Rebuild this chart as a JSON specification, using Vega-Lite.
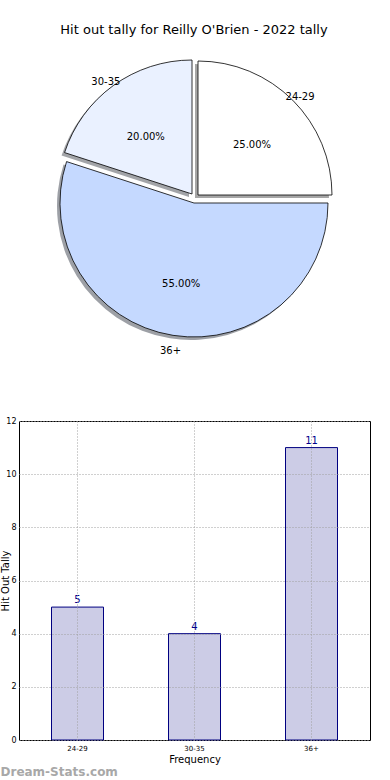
{
  "$schema": "https://vega.github.io/schema/vega-lite/v6.json",
  "padding": {"top": 24, "left": -1, "right": 0, "bottom": 0},
  "spacing": 51,
  "config": {"font": "DejaVu Sans", "view": {"stroke": null}},
  "title": {"text": "Dream-Stats.com", "orient": "bottom", "anchor": "start", "fontSize": 12, "fontWeight": "bold", "color": "#a8a8a8", "offset": 2, "dx": 1, "font": "DejaVu Sans"},
  "data": {"values": [
    {"group": "24-29", "tally": 5, "share": 0.25},
    {"group": "30-35", "tally": 4, "share": 0.20},
    {"group": "36+", "tally": 11, "share": 0.55}
  ]},
  "vconcat": [
    {
      "width": 350,
      "height": 324,
      "view": {"stroke": null},
      "title": {"text": "Hit out tally for Reilly O'Brien - 2022 tally", "fontSize": 13, "fontWeight": "normal", "offset": 4, "color": "black"},
      "layer": [
        {
          "transform": [
            {"stack": "tally", "groupby": [], "sort": [{"field": "group", "order": "ascending"}], "as": ["t0", "t1"]},
            {"filter": "datum.group === '24-29'"}
          ],
          "encoding": {
            "theta": {"field": "t0", "type": "quantitative", "scale": {"domain": [0, 20], "range": [1.5708, -4.7124]}},
            "theta2": {"field": "t1"}
          },
          "layer": [
            {"mark": {"type": "arc", "outerRadius": 134, "fill": "#4d4d4d", "opacity": 0.5, "xOffset": 1, "yOffset": -5}},
            {"mark": {"type": "arc", "outerRadius": 134, "fill": "#ffffff", "stroke": "black", "strokeWidth": 0.8, "xOffset": 4, "yOffset": -8}}
          ]
        },
        {
          "transform": [
            {"stack": "tally", "groupby": [], "sort": [{"field": "group", "order": "ascending"}], "as": ["t0", "t1"]},
            {"filter": "datum.group === '30-35'"}
          ],
          "encoding": {
            "theta": {"field": "t0", "type": "quantitative", "scale": {"domain": [0, 20], "range": [1.5708, -4.7124]}},
            "theta2": {"field": "t1"}
          },
          "layer": [
            {"mark": {"type": "arc", "outerRadius": 134, "fill": "#464a52", "opacity": 0.5, "xOffset": -5, "yOffset": -6}},
            {"mark": {"type": "arc", "outerRadius": 134, "fill": "#eaf1ff", "stroke": "black", "strokeWidth": 0.8, "xOffset": -2, "yOffset": -9}}
          ]
        },
        {
          "transform": [
            {"stack": "tally", "groupby": [], "sort": [{"field": "group", "order": "ascending"}], "as": ["t0", "t1"]},
            {"filter": "datum.group === '36+'"}
          ],
          "encoding": {
            "theta": {"field": "t0", "type": "quantitative", "scale": {"domain": [0, 20], "range": [1.5708, -4.7124]}},
            "theta2": {"field": "t1"}
          },
          "layer": [
            {"mark": {"type": "arc", "outerRadius": 134, "fill": "#3b414d", "opacity": 0.5, "xOffset": -3, "yOffset": 3}},
            {"mark": {"type": "arc", "outerRadius": 134, "fill": "#c5d9ff", "stroke": "black", "strokeWidth": 0.8}}
          ]
        },
        {
          "mark": {"type": "text", "radius": 150, "fontSize": 10, "color": "black"},
          "encoding": {
            "theta": {"field": "tally", "type": "quantitative", "stack": true, "scale": {"domain": [0, 20], "range": [1.5708, -4.7124]}},
            "order": {"field": "group", "type": "ordinal"},
            "text": {"field": "group", "type": "nominal"}
          }
        },
        {
          "mark": {"type": "text", "radius": 82, "fontSize": 10, "color": "black"},
          "encoding": {
            "theta": {"field": "tally", "type": "quantitative", "stack": true, "scale": {"domain": [0, 20], "range": [1.5708, -4.7124]}},
            "order": {"field": "group", "type": "ordinal"},
            "text": {"field": "share", "type": "quantitative", "format": ".2%"}
          }
        }
      ]
    },
    {
      "width": 351,
      "height": 319,
      "view": {"stroke": "black", "strokeWidth": 1},
      "encoding": {
        "x": {
          "field": "group", "type": "nominal", "sort": null,
          "scale": {"type": "band", "paddingInner": 0, "paddingOuter": 0},
          "axis": {"title": "Frequency", "labelAngle": 0, "labelFontSize": 7, "labelColor": "black", "titleFontSize": 10, "titleFontWeight": "normal", "titleColor": "black", "titlePadding": 3, "labelPadding": 4, "grid": true, "gridDash": [1, 2], "gridColor": "#a0a0a0", "bandPosition": 0.5, "domain": false, "ticks": false, "zindex": 1}
        },
        "y": {
          "field": "tally", "type": "quantitative",
          "scale": {"domain": [0, 12], "nice": false},
          "axis": {"title": "Hit Out Tally", "titleX": -9, "titleBaseline": "bottom", "values": [0, 2, 4, 6, 8, 10, 12], "labelFontSize": 8, "labelColor": "black", "titleFontSize": 10, "titleFontWeight": "normal", "titleColor": "black", "labelPadding": 3, "grid": true, "gridDash": [1, 2], "gridColor": "#a0a0a0", "domain": false, "ticks": false, "zindex": 1}
        }
      },
      "layer": [
        {"mark": {"type": "bar", "size": 52, "fill": "#ccccE6", "stroke": "#000080", "strokeWidth": 1}},
        {"mark": {"type": "text", "dy": -7, "fontSize": 10, "color": "#00008b"}, "encoding": {"text": {"field": "tally", "type": "quantitative"}}}
      ]
    }
  ]
}
